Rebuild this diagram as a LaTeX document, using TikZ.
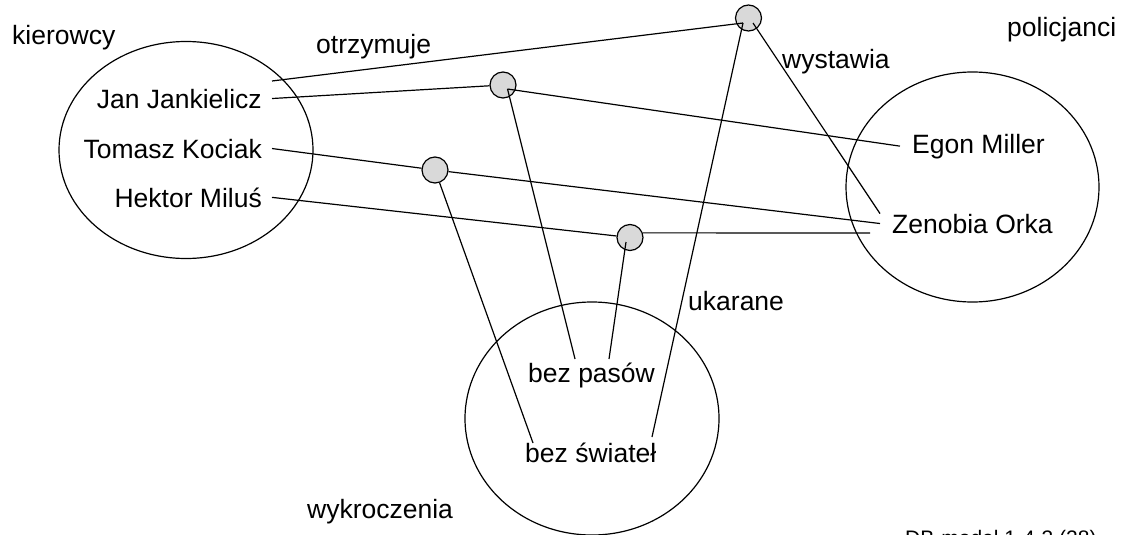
\documentclass[tikz,border=0pt]{standalone}
\usepackage{fontspec}
\setmainfont{Liberation Sans}
\usetikzlibrary{shapes.geometric}
\begin{document}
\begin{tikzpicture}[x=1pt,y=-1pt,
  lbl/.style={font=\fontsize{26.5}{30}\selectfont, inner sep=0pt},
  nm/.style={font=\fontsize{26.5}{30}\selectfont, inner xsep=10pt, inner ysep=0pt},
  nmr/.style={font=\fontsize{26.5}{30}\selectfont, inner xsep=12pt, inner ysep=0pt},
  setbox/.style={draw, ellipse, line width=1.2pt, inner sep=0pt},
  rel/.style={draw, circle, fill=black!15, line width=1.2pt, minimum size=26pt, inner sep=0pt},
  con/.style={line width=1.2pt}]
\useasboundingbox (0,0) rectangle (1132,535);
% sets
\node[setbox, minimum width=254pt, minimum height=217pt] (kier) at (186,150) {};
\node[setbox, minimum width=253pt, minimum height=230pt] (pol) at (972.5,187) {};
\node[setbox, minimum width=254pt, minimum height=233pt] (wyk) at (592,418.5) {};
% labels
\node[lbl, anchor=base west] (lkier) at (12,45) {kierowcy};
\node[lbl, anchor=base west] (lotrz) at (316,54) {otrzymuje};
\node[lbl, anchor=base west] (lpol) at (1007,37) {policjanci};
\node[lbl, anchor=base west] (lwyst) at (782,68) {wystawia};
\node[lbl, anchor=base west] (lukar) at (688,310) {ukarane};
\node[lbl, anchor=base west] (lwyk) at (307,518) {wykroczenia};
\node[lbl, anchor=base west, font=\fontsize{21}{24}\selectfont] (lfoot) at (905,545) {DB-model 1-4-3 (28)};
% elements
\node[nm, anchor=base east] (jan) at (272,108) {Jan Jankielicz};
\node[nm, anchor=base east] (tom) at (272,158) {Tomasz Kociak};
\node[nm, anchor=base east] (hek) at (272,207) {Hektor Miluś};
\node[nmr, anchor=base west] (egon) at (900,153) {Egon Miller};
\node[nmr, anchor=base west] (zen) at (880,233) {Zenobia Orka};
\node[lbl, anchor=base west] (pas) at (528,382) {bez pasów};
\node[lbl, anchor=base west] (swi) at (525,462) {bez świateł};
% relationship circles
\node[rel] (C1) at (748.5,18) {};
\node[rel] (C2) at (503,85) {};
\node[rel] (C3) at (435,170) {};
\node[rel] (C4) at (630,237.5) {};
% connection points
\coordinate (k0) at (272,81);
\coordinate (c1in) at (743,23);
\coordinate (c1r) at (753,23);
\coordinate (c2in) at (507.5,89);
\coordinate (c4in) at (626,242);
\coordinate (zen4) at (870,233);
\coordinate (pas1) at (575,359);
\coordinate (pas2) at (609,359);
\coordinate (swi1) at (533,443);
\coordinate (swi2) at (652,437);
% connectors
\draw[con] (k0) -- (c1in);
\draw[con] (c1in) -- (swi2);
\draw[con] (c1r) -- (zen.north west);
\draw[con] (jan.east) -- (C2);
\draw[con] (c2in) -- (egon.west);
\draw[con] (c2in) -- (pas1);
\draw[con] (tom.east) -- (C3);
\draw[con] (C3) -- (zen.west);
\draw[con] (C3) -- (swi1);
\draw[con] (hek.east) -- (C4);
\draw[con] (C4.20) -- (zen4);
\draw[con] (c4in) -- (pas2);
\end{tikzpicture}
\end{document}
